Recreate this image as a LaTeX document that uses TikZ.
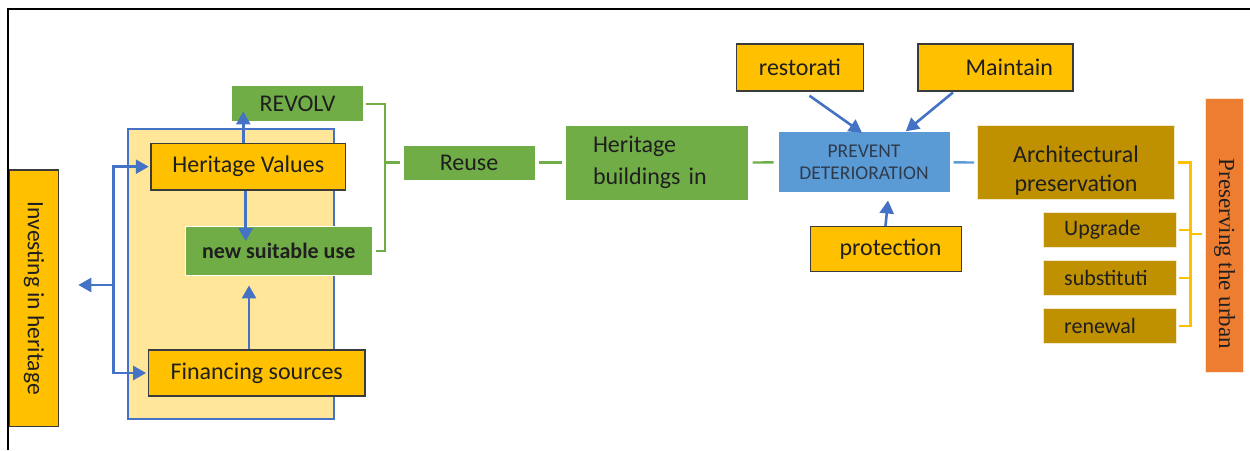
\documentclass[tikz,border=0pt]{standalone}
\usepackage{fontspec}
\setmainfont{Carlito}
\newfontfamily\slabfont{Liberation Serif}
\usetikzlibrary{arrows.meta,calc}

\definecolor{amber}{HTML}{FFC000}
\definecolor{cream}{HTML}{FFE699}
\definecolor{leaf}{HTML}{70AD47}
\definecolor{sky}{HTML}{5B9BD5}
\definecolor{ochre}{HTML}{BF9000}
\definecolor{tangerine}{HTML}{ED7D31}
\definecolor{linkblue}{HTML}{4472C4}
\definecolor{ink}{HTML}{1F1F1F}
\definecolor{edge}{HTML}{3B3B3B}
\definecolor{slate}{HTML}{2F3B4C}

\begin{document}
\begin{tikzpicture}[x=1pt,y=-1pt,
  box/.style={rectangle, inner sep=0pt, text=ink, align=center,
              font=\fontsize{24}{29}\selectfont},
  goldbox/.style={box, fill=amber, draw=edge, line width=1.4pt},
  leafbox/.style={box, fill=leaf, draw=white, line width=1pt},
  ochrebox/.style={box, fill=ochre, draw=white!80!ochre, line width=1pt},
  smallochre/.style={ochrebox, minimum width=133pt, minimum height=35.5pt,
              text width=91pt, inner xsep=21pt, align=left,
              font=\fontsize{22}{26}\selectfont},
  arr/.style={draw=linkblue, line width=2.6pt,
              -{Triangle[width=14pt,length=13pt]}},
  leafline/.style={draw=leaf, line width=2.3pt},
  skyline/.style={draw=sky, line width=2.3pt},
  goldline/.style={draw=amber, line width=2.2pt},
]
\useasboundingbox (0,0) rectangle (1250,450);

% page frame (left and top rules)
\draw[line width=2pt] (8.3,450) -- (8.3,9.3) -- (1250,9.3);

% left column
\node[goldbox, rotate=-90, minimum width=256.7pt, minimum height=49.3pt,
      font=\fontsize{23.5}{28}\selectfont]
  (invest) at (34,298.3) {Investing in heritage};

\node[box, draw=linkblue, fill=cream, line width=2pt,
      minimum width=206.3pt, minimum height=289.7pt] (panel) at (230.85,274.15) {};

\node[goldbox, minimum width=194.7pt, minimum height=46.7pt] (hv) at (248.3,166.7) {Heritage Values};
\node[leafbox, minimum width=131.7pt, minimum height=35.7pt] (revolv) at (297.5,103.8) {REVOLV};
\node[leafbox, minimum width=187.3pt, minimum height=49.3pt,
      font=\fontsize{22}{27}\selectfont\bfseries] (nsu) at (278.7,251.3) {new suitable use};
\node[goldbox, minimum width=216.7pt, minimum height=46pt] (fs) at (256.7,373) {Financing sources};

% middle chain
\node[leafbox, minimum width=132pt, minimum height=35pt] (reuse) at (469,162.5) {Reuse};
\node[leafbox, minimum width=183pt, minimum height=75pt, text width=127pt, align=left,
      font=\fontsize{24}{31.6}\selectfont] (hb) at (656.5,162.5) {Heritage\\buildings in};
\node[box, fill=sky, draw=white, line width=1pt, minimum width=172pt, minimum height=61pt,
      text=slate, font=\fontsize{19.5}{22.7}\selectfont] (prev) at (864,162.3) {PREVENT\\DETERIORATION};

\node[goldbox, minimum width=127pt, minimum height=47pt] (rest) at (800,67.3) {restorati};
\node[goldbox, minimum width=155pt, minimum height=47pt] (maint) at (995.3,67.3) {\hspace*{28pt}Maintain};
\node[goldbox, minimum width=151pt, minimum height=45pt] (prot) at (886,249.2) {\hspace*{9pt}protection};

% right column
\node[ochrebox, minimum width=197pt, minimum height=74pt] (arch) at (1076,162.5)
  {\rule{0pt}{32pt}Architectural\\preservation};
\node[smallochre] (upg) at (1109.7,229.8) {Upgrade};
\node[smallochre] (sub) at (1109.7,278) {substituti};
\node[smallochre] (ren) at (1109.7,326.2) {renewal};

\node[box, rotate=-90, fill=tangerine, draw=white!80!tangerine, line width=1pt,
      minimum width=274pt, minimum height=37.6pt,
      font=\slabfont\fontsize{23}{28}\selectfont] (pres) at (1224.5,235)
  {\hspace*{38pt}Preserving the urban};

% arrows inside the left panel
\draw[arr] ($(hv.north)+(-5,0)$) -- ($(hv.north |- revolv.south)+(-5,-10.7)$);
\draw[arr] ($(hv.south)+(-2.6,0)$) -- ($(hv.south |- nsu.north)+(-2.6,15)$);
\draw[arr] ($(fs.north)+(-7.7,0)$) -- ($(fs.north |- nsu.south)+(-7.7,9)$);

% fork between the panel and the left column
\coordinate (fork) at (113.3,285);
\coordinate (fanout) at (78.3,285);
\draw[arr] (fork) |- ($(hv.west)+(-1.5,0)$);
\draw[arr] (fork) |- ($(fs.west)+(-1.5,0)$);
\draw[arr] (fork) -- (fanout);

% green bracket into Reuse
\coordinate (gjoin) at (385,162.5);
\draw[leafline] ($(revolv.east)+(2.5,0)$) -| (gjoin) -- ($(reuse.west)+(-3,0)$);
\draw[leafline] ($(nsu.east)+(3,0)$) -| (gjoin);

% chain links
\draw[leafline, shorten <=3pt, shorten >=3pt] (reuse) -- (hb);
\draw[leafline, shorten <=4pt, shorten >=4pt] (hb) -- (prev);
\draw[skyline, shorten <=3pt, shorten >=3pt] (prev) -- (arch);

% arrows into PREVENT DETERIORATION
\draw[arr] ($(rest.south)+(9.5,4.2)$) -- ($(prev.north)+(-2,1.5)$);
\draw[arr] ($(maint.south)+(-42.3,0.9)$) -- ($(prev.north)+(41.8,0)$);
\draw[arr] ($(prot.north)+(-0.5,0)$) -- ($(prev.south)+(24,7.2)$);

% yellow bracket into the right column
\coordinate (yspine) at (1190,234);
\draw[goldline] ($(arch.east)+(3,0)$) -| ($(ren.east)+(13.8,0)$) -- ($(ren.east)+(2,0)$);
\draw[goldline] ($(upg.east)+(2,0)$) -- ($(upg.east)+(13.8,0)$);
\draw[goldline] ($(sub.east)+(2,0)$) -- ($(sub.east)+(13.8,0)$);
\draw[goldline, shorten >=3pt] (yspine) -- (yspine -| pres.south);
\end{tikzpicture}
\end{document}
